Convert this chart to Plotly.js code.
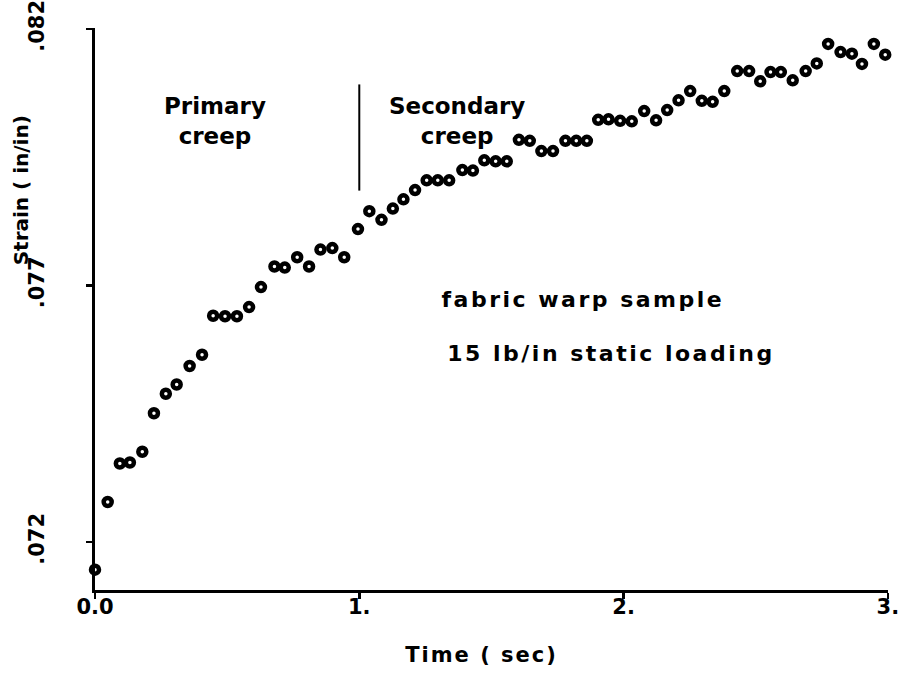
<!DOCTYPE html>
<html>
<head>
<meta charset="utf-8">
<script src="https://cdn.plot.ly/plotly-3.0.1.min.js"></script>
<style>html,body{margin:0;padding:0;background:#fff;}#chart{width:907px;height:683px;}</style>
</head>
<body>
<div id="chart"></div>
<script>
const timeSec = [0.0, 0.048, 0.094, 0.132, 0.179, 0.223, 0.268, 0.309, 0.358, 0.405,
  0.447, 0.492, 0.537, 0.583, 0.628, 0.679, 0.718, 0.765, 0.810, 0.853, 0.898, 0.943,
  0.995, 1.038, 1.084, 1.127, 1.167, 1.211, 1.255, 1.297, 1.340, 1.390, 1.430, 1.473,
  1.516, 1.558, 1.604, 1.645, 1.689, 1.733, 1.780, 1.821, 1.861, 1.904, 1.943, 1.987,
  2.031, 2.078, 2.123, 2.165, 2.208, 2.252, 2.296, 2.337, 2.381, 2.430, 2.475, 2.517,
  2.556, 2.595, 2.640, 2.689, 2.731, 2.774, 2.821, 2.864, 2.902, 2.947, 2.990];
const strain = [0.07146, 0.07278, 0.07353, 0.07355, 0.07376, 0.07451, 0.07489, 0.07507, 0.07543, 0.07565,
  0.07641, 0.07640, 0.07640, 0.07658, 0.07697, 0.07737, 0.07735, 0.07755, 0.07737, 0.07770, 0.07773, 0.07755,
  0.07810, 0.07845, 0.07828, 0.07850, 0.07868, 0.07886, 0.07905, 0.07905, 0.07905, 0.07925, 0.07924, 0.07944,
  0.07942, 0.07942, 0.07984, 0.07982, 0.07962, 0.07962, 0.07982, 0.07982, 0.07982, 0.08023, 0.08024, 0.08021,
  0.08020, 0.08040, 0.08022, 0.08042, 0.08061, 0.08079, 0.08060, 0.08058, 0.08079, 0.08118, 0.08118, 0.08098,
  0.08116, 0.08116, 0.08100, 0.08118, 0.08133, 0.08171, 0.08155, 0.08152, 0.08132, 0.08171, 0.08150];
const xTickVals = [0, 1, 2, 3];
const xTickText = ['0.0', '1.', '2.', '3.'];
const yTickVals = [0.072, 0.077, 0.082];
const yTickText = ['.072', '.077', '.082'];
const dividerTime = [1.0, 1.0];
const dividerStrain = [0.07885, 0.08092];

const FONT = 'DejaVu Sans, sans-serif';

const traces = [
  {x: timeSec, y: strain, type: 'scatter', mode: 'markers', cliponaxis: false,
   marker: {symbol: 'circle', size: 8, color: '#ffffff', line: {color: '#000000', width: 4.5}},
   showlegend: false, hoverinfo: 'x+y'},
  {x: dividerTime, y: dividerStrain, type: 'scatter', mode: 'lines', cliponaxis: false,
   line: {color: '#000000', width: 2}, showlegend: false, hoverinfo: 'skip'}
];

const layout = {
  width: 907, height: 683,
  margin: {l: 95, r: 19, t: 28, b: 93},
  paper_bgcolor: '#ffffff', plot_bgcolor: '#ffffff',
  font: {family: FONT, color: '#000000', size: 20},
  xaxis: {range: [0, 3.0005], tickvals: xTickVals, ticktext: xTickText,
    showgrid: false, zeroline: false, showline: true, linecolor: '#000', linewidth: 3,
    ticks: 'outside', ticklen: 6, tickwidth: 2.5, tickcolor: '#000',
    ticklabelstandoff: -10,
    tickfont: {family: FONT, size: 21, weight: 'bold'},
    title: {text: 'Time ( sec)', font: {family: FONT, size: 21, weight: 'bold'}, standoff: 30}},
  yaxis: {range: [0.071064, 0.08202], tickvals: yTickVals, ticktext: yTickText,
    tickangle: -90, ticklabelstandoff: 34, ticklabeloverflow: 'allow',
    showgrid: false, zeroline: false, showline: true, linecolor: '#000', linewidth: 3,
    ticks: 'outside', ticklen: 6, tickwidth: 2.5, tickcolor: '#000',
    tickfont: {family: FONT, size: 21, weight: 'bold'}},
  annotations: [
    {text: 'Strain ( in/in)', xref: 'paper', yref: 'paper', x: -0.094, y: 0.712,
     xanchor: 'center', yanchor: 'middle', textangle: -90, showarrow: false,
     font: {family: FONT, size: 20, weight: 'bold'}},
    {text: 'Primary<br>creep', xref: 'x', yref: 'y', x: 0.454, y: 0.0802, showarrow: false,
     font: {family: FONT, size: 23, weight: 'bold'}, align: 'center'},
    {text: 'Secondary<br>creep', xref: 'x', yref: 'y', x: 1.37, y: 0.0802,
     showarrow: false, font: {family: FONT, size: 23, weight: 'bold'}, align: 'center'},
    {text: 'fabric warp sample', xref: 'x', yref: 'y', x: 1.848, y: 0.07673,
     showarrow: false, font: {family: FONT, size: 22, weight: 'bold'}},
    {text: '15 lb/in static loading', xref: 'x', yref: 'y', x: 1.952, y: 0.07567,
     showarrow: false, font: {family: FONT, size: 22, weight: 'bold'}}
  ]
};

Plotly.newPlot('chart', traces, layout, {displayModeBar: false, staticPlot: true}).then(function () {
  const texts = document.querySelectorAll('.annotation-text');
  texts.forEach(function (t, i) {
    if (i >= 3) t.style.letterSpacing = '2.5px';
  });
  const xt = document.querySelector('.g-xtitle text');
  if (xt) xt.style.letterSpacing = '2px';
  const xg = document.querySelector('.g-xtitle');
  if (xg) xg.setAttribute('transform', 'translate(-10,0)');
});
</script>
</body>
</html>
